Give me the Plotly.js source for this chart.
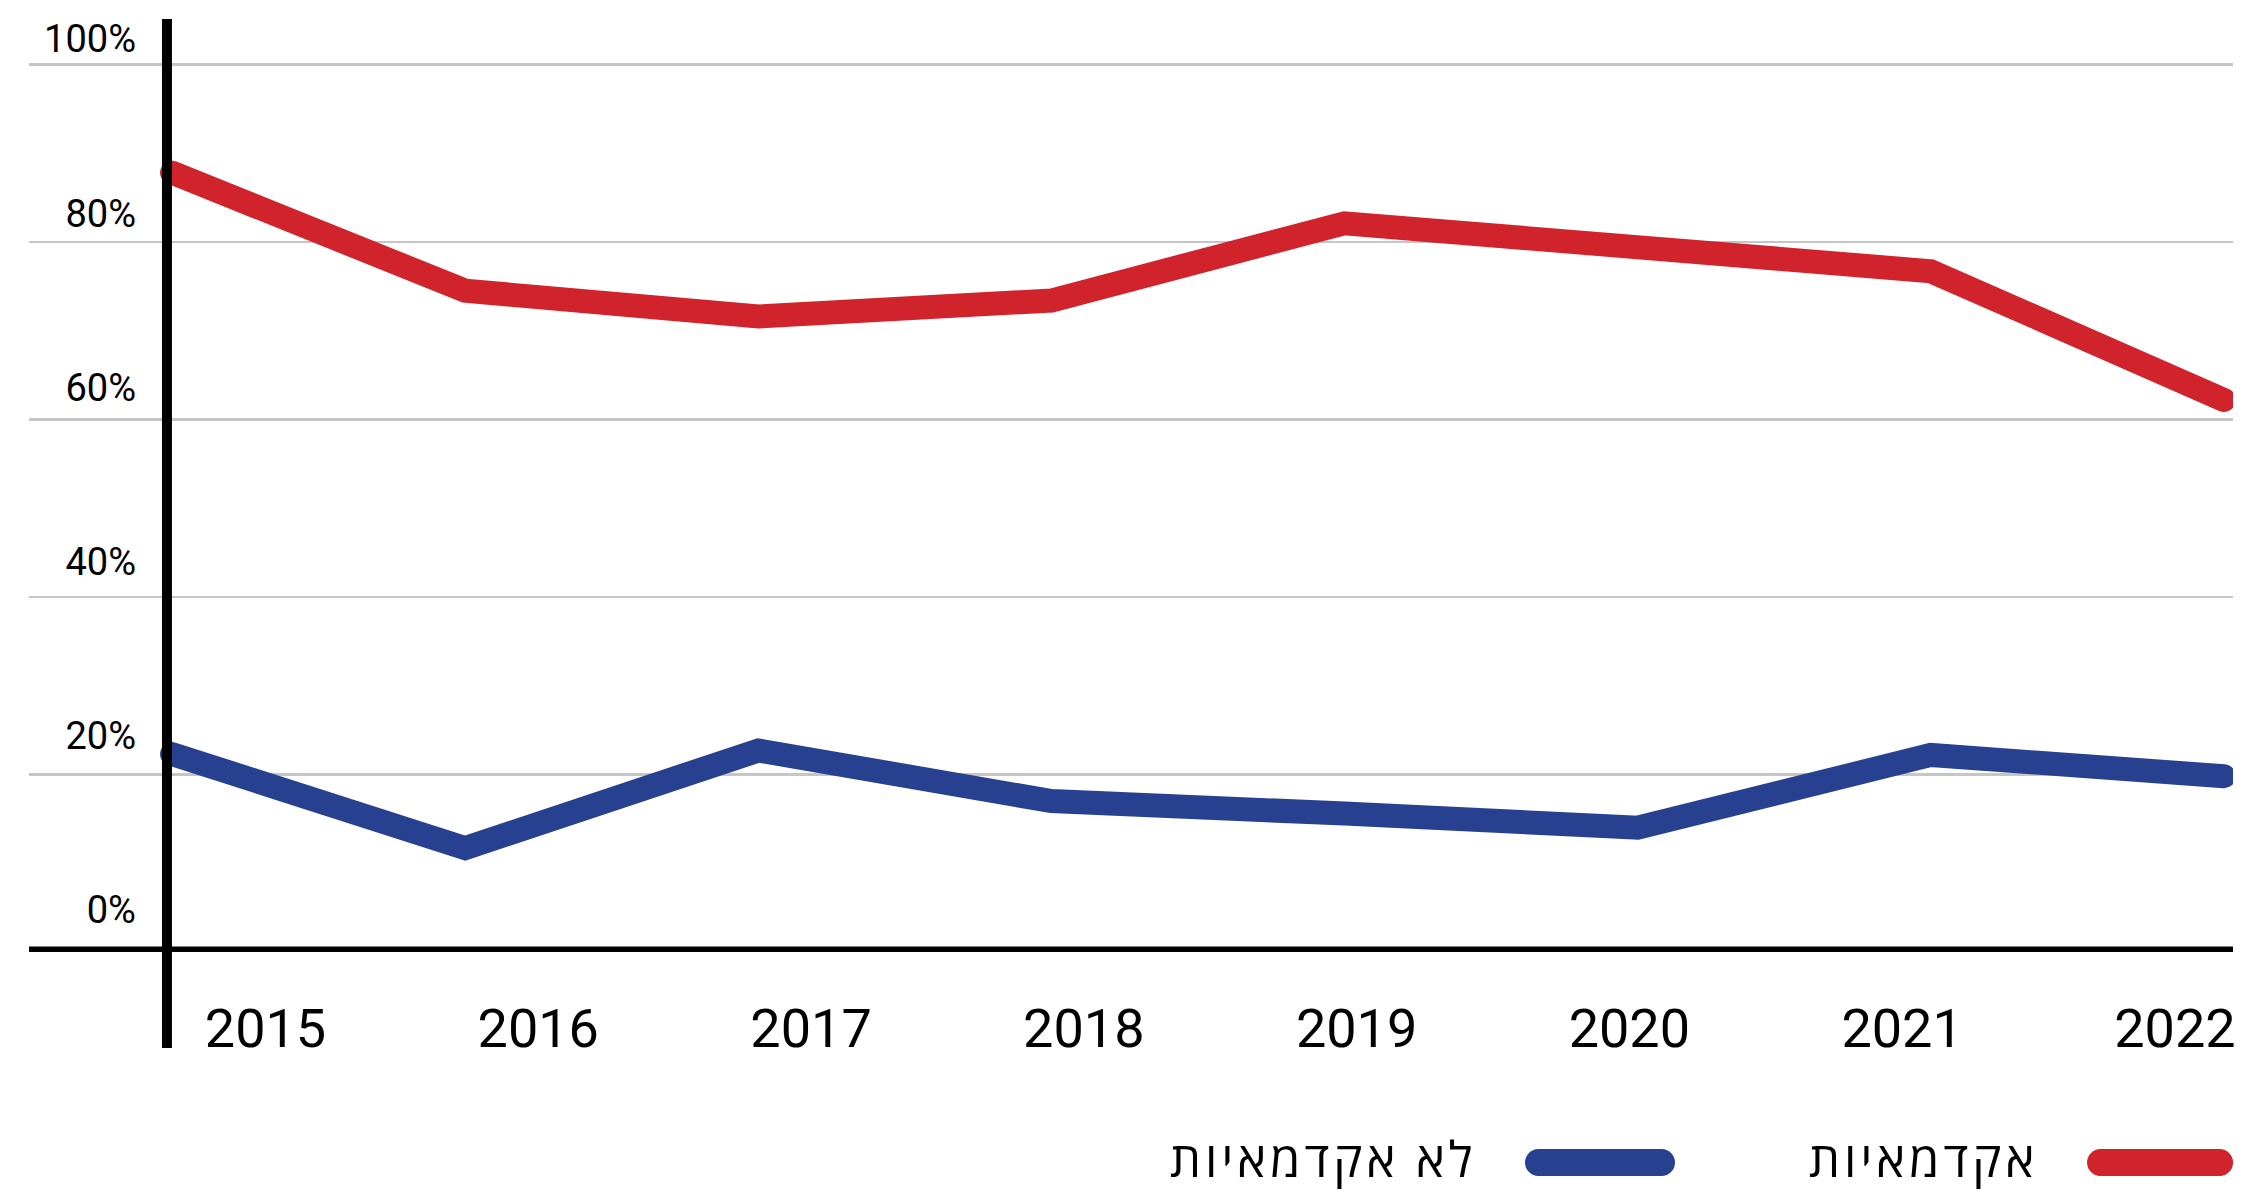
<!DOCTYPE html>
<html>
<head>
<meta charset="utf-8">
<script src="https://cdn.plot.ly/plotly-3.0.1.min.js"></script>
<style>
  html, body { margin: 0; padding: 0; background: #ffffff; }
  #chart { width: 2250px; height: 1193px; }
  .scatterlayer .js-line { stroke-linecap: round; }
  .shapelayer path[data-index="2"], .shapelayer path[data-index="3"] { stroke-linecap: round; }
  .annotation-text { letter-spacing: 4px; }
</style>
</head>
<body>
<div id="chart"></div>
<script>
// ---- data ----
const years = [2015, 2016, 2017, 2018, 2019, 2020, 2021, 2022];
const yearLabels = ['2015', '2016', '2017', '2018', '2019', '2020', '2021', '2022'];
const academic = [87.8, 74.5, 71.6, 73.4, 82.1, 79.4, 76.7, 62.2];
const nonAcademic = [22.3, 11.7, 22.7, 17.0, 15.6, 14.0, 22.2, 19.8];
const seriesNames = ['אקדמאיות', 'לא אקדמאיות'];
const yTickVals = [0, 20, 40, 60, 80, 100];
const yTickLabels = ['0%', '20%', '40%', '60%', '80%', '100%'];

const RED = '#D0232B';
const BLUE = '#27408F';
const FONT = "Roboto, 'Open Sans', sans-serif";
const HEB_FONT = "'Open Sans', Roboto, sans-serif";

const traces = [
  {
    x: years, y: academic, name: seriesNames[0], type: 'scatter', mode: 'lines',
    line: { color: RED, width: 24 }, hoverinfo: 'skip', showlegend: false, cliponaxis: false
  },
  {
    x: years, y: nonAcademic, name: seriesNames[1], type: 'scatter', mode: 'lines',
    line: { color: BLUE, width: 24 }, hoverinfo: 'skip', showlegend: false, cliponaxis: false
  },
  {
    x: years, y: years.map(() => null), xaxis: 'x2', yaxis: 'y2', type: 'scatter', mode: 'markers',
    hoverinfo: 'skip', showlegend: false, marker: { opacity: 0 }
  }
];

const layout = {
  width: 2250, height: 1193,
  margin: { l: 29, r: 17, t: 20, b: 241 },
  paper_bgcolor: '#ffffff', plot_bgcolor: '#ffffff',
  font: { family: FONT, color: '#000000' },
  showlegend: false,
  xaxis: {
    type: 'linear', range: [2014.512, 2022.031],
    showgrid: false, zeroline: false, showline: false, showticklabels: false, ticks: ''
  },
  xaxis2: {
    type: 'linear', overlaying: 'x', anchor: 'y', side: 'bottom',
    range: [2014.133, 2022.213],
    tickmode: 'array', tickvals: years, ticktext: yearLabels,
    showgrid: false, zeroline: false, showline: false, ticks: '',
    tickfont: { family: FONT, size: 54, color: '#000000' },
    ticklabelstandoff: 40
  },
  yaxis: {
    range: [0, 105],
    tickmode: 'array', tickvals: yTickVals,
    showgrid: true, gridcolor: '#c6c6c6', gridwidth: 2.5,
    zeroline: false, showline: false, ticks: '', showticklabels: false
  },
  yaxis2: {
    range: [-4.82, 102.18], overlaying: 'y', anchor: 'free', position: 0.0626, side: 'left',
    tickmode: 'array', tickvals: yTickVals, ticktext: yTickLabels,
    showgrid: false, zeroline: false, showline: false, ticks: '',
    tickfont: { family: FONT, size: 38, color: '#000000' },
    ticklabelstandoff: 31
  },
  shapes: [
    { type: 'line', xref: 'paper', yref: 'paper', x0: 0.0626, x1: 0.0626, y0: -0.1030, y1: 1.0011,
      line: { color: '#000000', width: 10 }, layer: 'above' },
    { type: 'line', xref: 'paper', yref: 'y', x0: 0, x1: 1, y0: 0, y1: 0,
      line: { color: '#000000', width: 11 }, layer: 'above' },
    { type: 'line', xref: 'paper', yref: 'paper', x0: 0.9399, x1: 0.9939, y0: -0.2259, y1: -0.2259,
      line: { color: RED, width: 27 }, layer: 'above' },
    { type: 'line', xref: 'paper', yref: 'paper', x0: 0.6849, x1: 0.7407, y0: -0.2259, y1: -0.2259,
      line: { color: BLUE, width: 27 }, layer: 'above' }
  ],
  annotations: [
    { xref: 'paper', yref: 'paper', x: 0.9124, y: -0.2210, xanchor: 'right', yanchor: 'middle',
      text: seriesNames[0], showarrow: false, font: { family: HEB_FONT, size: 49, color: '#000000' } },
    { xref: 'paper', yref: 'paper', x: 0.6574, y: -0.2210, xanchor: 'right', yanchor: 'middle',
      text: seriesNames[1], showarrow: false, font: { family: HEB_FONT, size: 49, color: '#000000' } }
  ]
};

Plotly.newPlot('chart', traces, layout, { staticPlot: true, displayModeBar: false });
</script>
</body>
</html>
